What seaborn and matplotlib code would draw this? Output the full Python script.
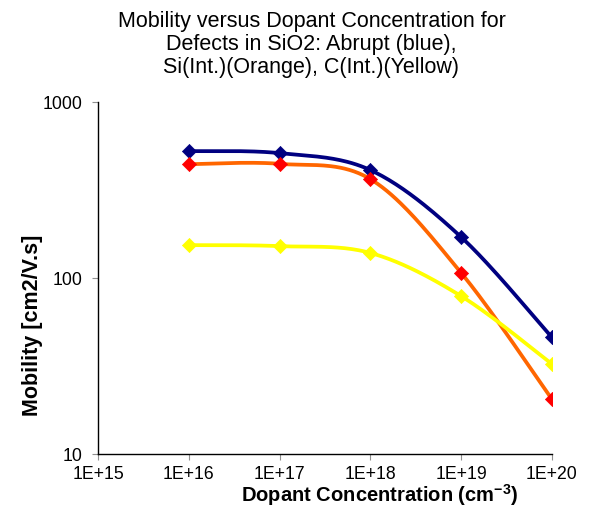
import numpy as np
import pandas as pd
import matplotlib
matplotlib.use("Agg")
import matplotlib.pyplot as plt
import seaborn as sns

# Data
concentration = [1e16, 1e17, 1e18, 1e19, 1e20]
abrupt = [527, 513, 411, 171, 46]
si_int = [444, 446, 365, 107, 20.5]
c_int = [154, 152, 139, 79, 32.5]
x_tick_labels = ["1E+15", "1E+16", "1E+17", "1E+18", "1E+19", "1E+20"]
y_tick_labels = ["10", "100", "1000"]

sns.set_theme(style="white")
plt.rcParams['font.family'] = ['Liberation Sans', 'DejaVu Sans']
plt.rcParams['mathtext.fontset'] = 'custom'
plt.rcParams['mathtext.rm'] = 'Liberation Sans'
plt.rcParams['mathtext.bf'] = 'Liberation Sans:bold'

fig = plt.figure(figsize=(5.91, 5.08), dpi=100)
ax = fig.add_axes([0.166, 0.106, 0.768, 0.693])


def smooth(xs, ys, n=40):
    # Excel-style smoothed line (Catmull-Rom / Bezier) in log-log space
    lx = np.log10(np.asarray(xs, float))
    ly = np.log10(np.asarray(ys, float))
    P = np.column_stack([lx, ly])
    out = []
    for i in range(len(P) - 1):
        p0 = P[i - 1] if i > 0 else P[i]
        p1 = P[i]
        p2 = P[i + 1]
        p3 = P[i + 2] if i + 2 < len(P) else P[i + 1]
        c1 = p1 + (p2 - p0) / 6.0
        c2 = p2 - (p3 - p1) / 6.0
        t = np.linspace(0, 1, n)[:, None]
        seg = ((1 - t) ** 3) * p1 + 3 * ((1 - t) ** 2) * t * c1 + 3 * (1 - t) * t ** 2 * c2 + t ** 3 * p2
        out.append(seg if i == 0 else seg[1:])
    pts = np.vstack(out)
    return 10 ** pts[:, 0], 10 ** pts[:, 1]


series = [
    ("Abrupt", abrupt, "#000080", "#000080"),
    ("Si(Int.)", si_int, "#FF6600", "#FF0000"),
    ("C(Int.)", c_int, "#FFFF00", "#FFFF00"),
]

for name, vals, lc, mc in series:
    sx, sy = smooth(concentration, vals)
    dfl = pd.DataFrame({"x": sx, "y": sy})
    sns.lineplot(data=dfl, x="x", y="y", ax=ax, color=lc, linewidth=2.7,
                 sort=False, estimator=None)
    dfp = pd.DataFrame({"x": concentration, "y": vals})
    sns.scatterplot(data=dfp, x="x", y="y", ax=ax, color=mc, marker="D",
                    s=52, edgecolor=mc, linewidth=0.5, zorder=5)

ax.set_xscale("log")
ax.set_yscale("log")
ax.set_xlim(1e15, 1e20)
ax.set_ylim(10, 1000)
ax.set_xticks([1e15, 1e16, 1e17, 1e18, 1e19, 1e20])
ax.set_xticklabels(x_tick_labels)
ax.set_yticks([10, 100, 1000])
ax.set_yticklabels(y_tick_labels)
ax.minorticks_off()
ax.tick_params(axis="both", which="major", labelsize=12.7, length=4.5, width=0.8,
               color="#909090", direction="out", left=True, bottom=True,
               labelcolor="black")
ax.tick_params(axis="y", pad=7)
ax.tick_params(axis="x", pad=4)

for s in ["top", "right"]:
    ax.spines[s].set_visible(False)
for s in ["left", "bottom"]:
    ax.spines[s].set_color("black")
    ax.spines[s].set_linewidth(1.0)

ax.set_xlabel(r"Dopant Concentration (cm$^{\mathbf{-3}}$)", fontsize=14.5,
              fontweight="bold", va="baseline", color="black")
ax.xaxis.set_label_coords(0.621, -0.135)
ax.set_ylabel("Mobility [cm2/V.s]", fontsize=15.5, fontweight="bold",
              va="center", color="black")
ax.yaxis.set_label_coords(-0.145, 0.367)

fig.text(0.527, 0.979, "Mobility versus Dopant Concentration for\nDefects in SiO2: Abrupt (blue),\nSi(Int.)(Orange), C(Int.)(Yellow)",
         ha="center", va="top", fontsize=15.5, linespacing=1.12, color="black")

fig.savefig("out.png", dpi=100, facecolor="white")
